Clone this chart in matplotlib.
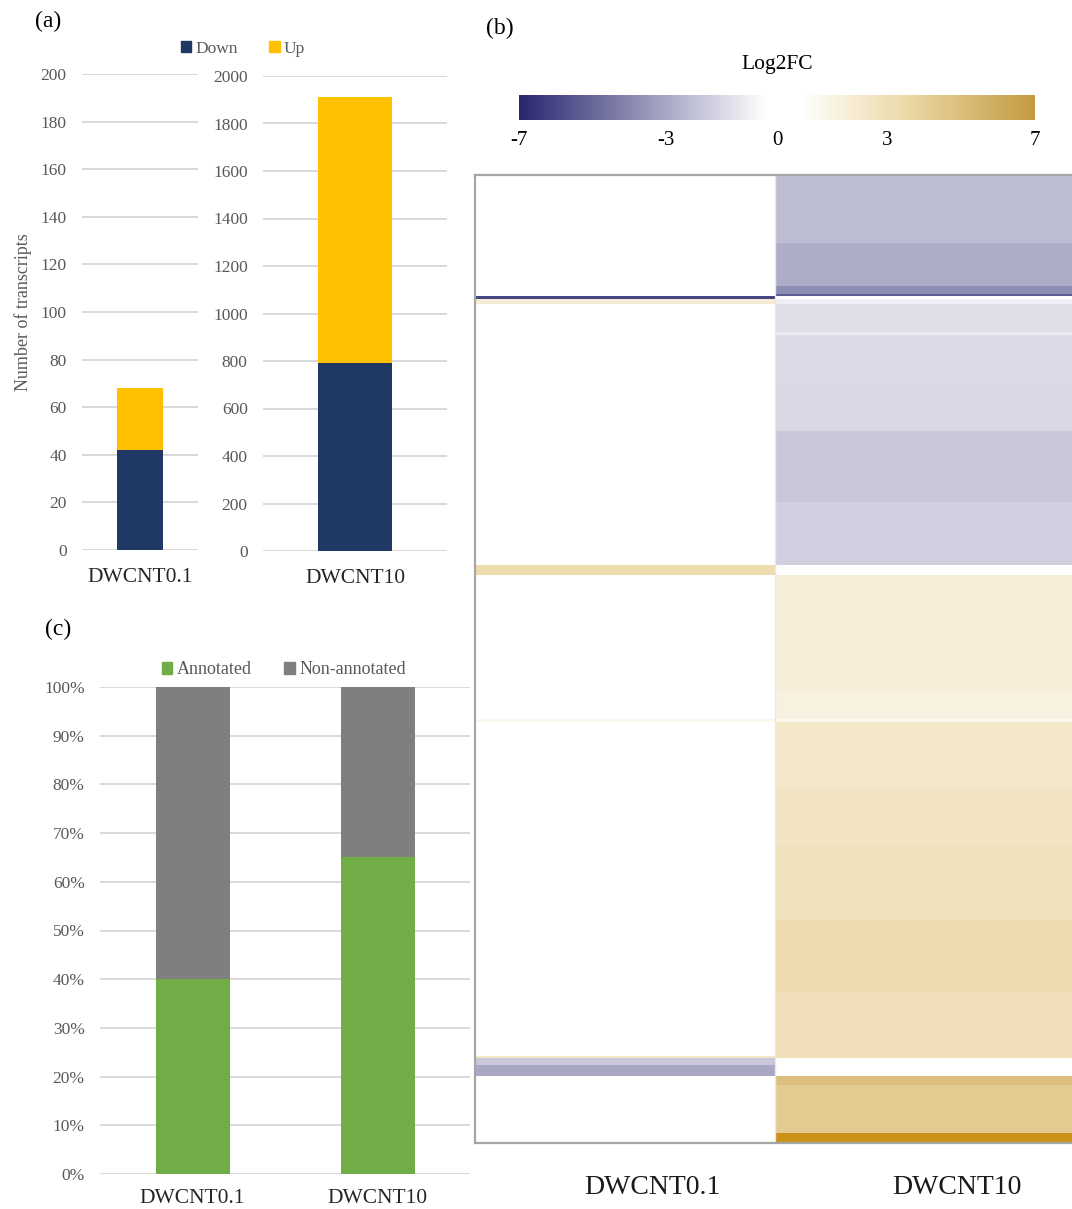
import numpy as np
import matplotlib
matplotlib.use("Agg")
import matplotlib.pyplot as plt
from matplotlib.colors import LinearSegmentedColormap
from matplotlib.patches import Patch

plt.rcParams['font.family'] = ['Liberation Serif', 'DejaVu Serif']
plt.rcParams['axes.unicode_minus'] = False

# ---------------- data ----------------
groups = ["DWCNT0.1", "DWCNT10"]
down_counts = [42, 790]
up_counts = [26, 1120]
yticks_a1 = [0, 20, 40, 60, 80, 100, 120, 140, 160, 180, 200]
yticks_a2 = [0, 200, 400, 600, 800, 1000, 1200, 1400, 1600, 1800, 2000]

annotated_pct = [40, 65]
non_annotated_pct = [60, 35]
yticks_c = [0, 10, 20, 30, 40, 50, 60, 70, 80, 90, 100]

# heatmap blocks (rows of transcripts, top to bottom)
block_rows = [68, 42, 8, 2, 3, 5, 28, 3, 49, 47, 70, 63, 10, 115, 28, 3, 66, 56,
              75, 72, 63, 2, 7, 11, 9, 48, 10]
lfc_dwcnt01 = [0, 0, 0, 0, -6.0, 2.0, 0, 0, 0, 0, 0, 0, 3.3, 0, 0, 1.2, 0, 0,
               0, 0, 0, 2.5, -2.0, -3.0, 0, 0, 0]
lfc_dwcnt10 = [-2.3, -2.8, -3.8, -5.4, 0, -0.8, -1.3, -0.9, -1.4, -1.5, -2.0, -1.7, 0,
               1.9, 1.6, 1.2, 2.3, 2.6, 2.75, 3.3, 3.0, 3.0, 0, 0, 4.9, 4.3, 8.0]
cbar_ticks = [-7, -3, 0, 3, 7]

# ---------------- figure ----------------
W, H = 1072, 1209
fig = plt.figure(figsize=(W / 100, H / 100), dpi=100)


def ax_px(x0, y0, x1, y1):
    return fig.add_axes([x0 / W, 1 - y1 / H, (x1 - x0) / W, (y1 - y0) / H])


navy = "#203864"
gold = "#ffc000"
grid_c = "#d9d9d9"
tick_c = "#595959"


def style_bar_axes(ax):
    for s in ax.spines.values():
        s.set_visible(False)
    ax.yaxis.grid(True, color=grid_c, linewidth=1.4)
    ax.set_axisbelow(True)
    ax.tick_params(axis='both', length=0)
    ax.tick_params(axis='y', labelsize=12.5, labelcolor=tick_c, pad=11)


# ---- panel (a) ----
ax1 = ax_px(82, 74, 198, 550)
ax2 = ax_px(263, 76, 447, 551)
for ax, i, yt in [(ax1, 0, yticks_a1), (ax2, 1, yticks_a2)]:
    ax.bar([0], [down_counts[i]], width=0.4, color=navy)
    ax.bar([0], [up_counts[i]], bottom=[down_counts[i]], width=0.4, color=gold)
    ax.set_xlim(-0.5, 0.5)
    ax.set_ylim(yt[0], yt[-1])
    ax.set_yticks(yt)
    ax.set_xticks([0])
    ax.set_xticklabels([groups[i]], fontsize=15.5, color="#262626")
    ax.tick_params(axis='x', pad=13)
    style_bar_axes(ax)
ax1.set_ylabel("Number of transcripts", fontsize=13, color=tick_c, labelpad=6)

fig.legend(handles=[Patch(color=navy, label="Down"), Patch(color=gold, label="Up")],
           loc="center", bbox_to_anchor=(243 / W, 1 - 49 / H), ncol=2, frameon=False,
           fontsize=12.5, handlelength=0.6, handleheight=0.6, handletextpad=0.25,
           columnspacing=1.8, labelcolor=tick_c)
fig.text(48 / W, 1 - 21 / H, "(a)", fontsize=17, ha="center", va="center")

# ---- panel (c) ----
axc = ax_px(100, 687, 470, 1174)
x = np.arange(len(groups))
axc.bar(x, annotated_pct, width=0.4, color="#70ad47")
axc.bar(x, non_annotated_pct, bottom=annotated_pct, width=0.4, color="#7f7f7f")
axc.set_xlim(-0.5, 1.5)
axc.set_ylim(0, 100)
axc.set_yticks(yticks_c)
axc.set_yticklabels([f"{v}%" for v in yticks_c])
axc.set_xticks(x)
axc.set_xticklabels(groups, fontsize=15.5, color="#262626")
axc.tick_params(axis='x', pad=11)
style_bar_axes(axc)
fig.legend(handles=[Patch(color="#70ad47", label="Annotated"),
                    Patch(color="#7f7f7f", label="Non-annotated")],
           loc="center", bbox_to_anchor=(284 / W, 1 - 670 / H), ncol=2, frameon=False,
           fontsize=13, handlelength=0.6, handleheight=0.6, handletextpad=0.25,
           columnspacing=1.8, labelcolor=tick_c)
fig.text(58 / W, 1 - 629 / H, "(c)", fontsize=17, ha="center", va="center")

# ---- panel (b) heatmap ----
cmap = LinearSegmentedColormap.from_list(
    "lfc", [(0.0, "#28276f"), (0.4786, "#ffffff"), (0.5429, "#ffffff"),
            (0.75, "#edd9a9"), (1.0, "#c39a40")])
cmap.set_over("#cb9218")

mat = np.column_stack([np.repeat(lfc_dwcnt01, block_rows),
                       np.repeat(lfc_dwcnt10, block_rows)])
axb = ax_px(475, 175, 1075, 1143)
im = axb.imshow(mat, aspect="auto", cmap=cmap, vmin=-7, vmax=7,
                extent=(-0.5, 1.5, mat.shape[0], 0), interpolation="nearest")
axb.axvline(0.5, color="#e8e8e8", linewidth=1)
for s in axb.spines.values():
    s.set_color("#a6a6a6")
    s.set_linewidth(1.6)
axb.set_yticks([])
axb.set_xticks([0.09, 1.107])
axb.set_xticklabels(groups, fontsize=20, color="#1a1a1a")
axb.tick_params(axis='x', length=0, pad=23)
fig.text(500 / W, 1 - 28 / H, "(b)", fontsize=17, ha="center", va="center")

cax = ax_px(519, 95, 1035, 120)
cb = fig.colorbar(im, cax=cax, orientation="horizontal", ticks=cbar_ticks)
cb.outline.set_visible(False)
cax.tick_params(length=0, labelsize=15, pad=8)
fig.text(777 / W, 1 - 65 / H, "Log2FC", fontsize=15.5, ha="center", va="center")

fig.savefig("out.png", dpi=100)
